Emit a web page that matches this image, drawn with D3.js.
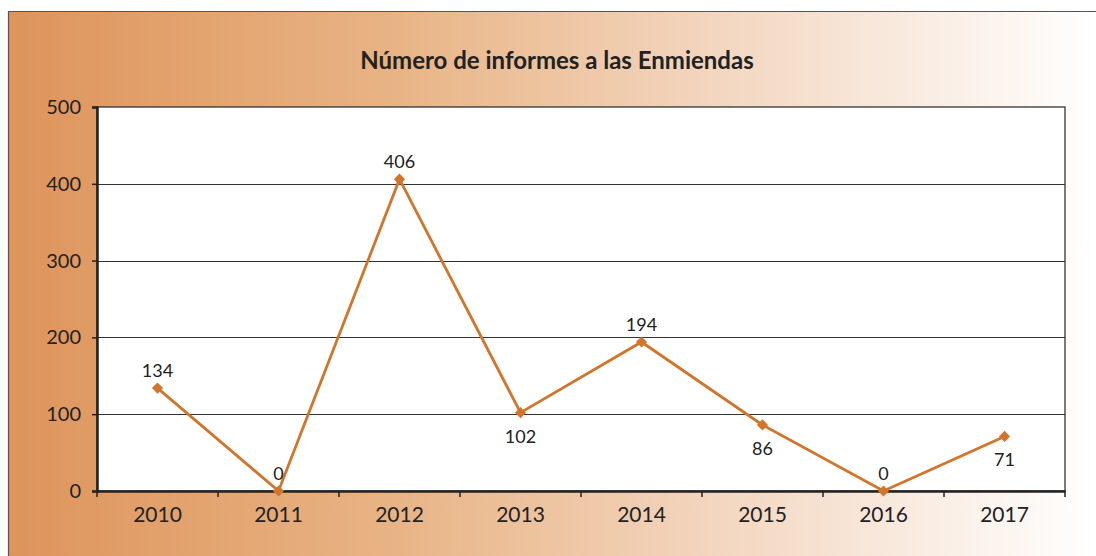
<!DOCTYPE html>
<html>
<head>
<meta charset="utf-8">
<script src="https://cdn.jsdelivr.net/npm/d3@7"></script>
<style>
  body { margin: 0; background: #fff; }
  text { font-family: Lato, "Open Sans", sans-serif; fill: #222; }
</style>
</head>
<body>
<script>
const years = ['2010', '2011', '2012', '2013', '2014', '2015', '2016', '2017'];
const informes = [134, 0, 406, 102, 194, 86, 0, 71];
const yTicks = [0, 100, 200, 300, 400, 500];
const labelSide = ['up', 'up', 'up', 'down', 'up', 'down', 'up', 'down'];

const width = 1096, height = 556;
const margin = { top: 107, right: 31, bottom: 65, left: 97 };

const svg = d3.select('body').append('svg')
  .attr('width', width)
  .attr('height', height);

const defs = svg.append('defs');
const bg = defs.append('linearGradient')
  .attr('id', 'bgGrad')
  .attr('x1', '0%').attr('x2', '100%')
  .attr('y1', '0%').attr('y2', '0%');
bg.append('stop').attr('offset', '0%').attr('stop-color', '#de945b');
bg.append('stop').attr('offset', '35%').attr('stop-color', '#e8b384');
bg.append('stop').attr('offset', '65%').attr('stop-color', '#f3d6bf');
bg.append('stop').attr('offset', '100%').attr('stop-color', '#ffffff');

// frame
svg.append('rect')
  .attr('x', 8).attr('y', 11)
  .attr('width', width - 8).attr('height', height - 11)
  .style('fill', 'url(#bgGrad)');
svg.append('path')
  .attr('d', `M8.5,${height} V11.5 H${width}`)
  .style('fill', 'none')
  .style('stroke', '#555')
  .style('stroke-width', 1.2);

svg.append('text')
  .attr('x', 557)
  .attr('y', 69)
  .attr('text-anchor', 'middle')
  .style('font-size', '24px')
  .style('font-weight', 'bold')
  .text('Número de informes a las Enmiendas');

const x = d3.scaleBand()
  .domain(years)
  .range([margin.left, width - margin.right]);

const y = d3.scaleLinear()
  .domain([0, 500])
  .range([height - margin.bottom, margin.top]);

// plot area
svg.append('rect')
  .attr('x', margin.left)
  .attr('y', margin.top)
  .attr('width', width - margin.left - margin.right)
  .attr('height', height - margin.top - margin.bottom)
  .style('fill', '#fff')
  .style('stroke', '#333')
  .style('stroke-width', 1.3);

// gridlines
svg.append('g')
  .selectAll('line')
  .data(yTicks.filter(d => d > 0 && d < 500))
  .join('line')
  .attr('x1', margin.left)
  .attr('x2', width - margin.right)
  .attr('y1', d => Math.round(y(d)) + 0.5)
  .attr('y2', d => Math.round(y(d)) + 0.5)
  .style('stroke', '#333')
  .style('stroke-width', 1.2);

const yAxis = svg.append('g')
  .attr('transform', `translate(${margin.left},0)`)
  .call(d3.axisLeft(y).tickValues(yTicks).tickSize(5).tickPadding(11));
yAxis.select('.domain').style('stroke', '#222').style('stroke-width', 2.5);
yAxis.selectAll('.tick line').style('stroke', '#222').style('stroke-width', 1.5);
yAxis.selectAll('text').style('font-size', '20px').attr('font-family', null);

const xAxis = svg.append('g')
  .attr('transform', `translate(0,${height - margin.bottom})`)
  .call(d3.axisBottom(x).tickSize(0).tickPadding(12));
xAxis.select('.domain').style('stroke', '#222').style('stroke-width', 2.5);
xAxis.selectAll('text').style('font-size', '21px').attr('font-family', null).attr('dy', '0.9em');

// category separators ticks
xAxis.selectAll('.sep')
  .data(years.concat(['end']))
  .join('line')
  .attr('class', 'sep')
  .attr('x1', (d, i) => margin.left + i * x.step())
  .attr('x2', (d, i) => margin.left + i * x.step())
  .attr('y1', 0)
  .attr('y2', 6)
  .style('stroke', '#222')
  .style('stroke-width', 1.5);

const pts = years.map((yr, i) => ({ yr, v: informes[i], side: labelSide[i] }));
const color = '#d2742a';

svg.append('path')
  .datum(pts)
  .attr('d', d3.line().x(d => x(d.yr) + x.bandwidth() / 2).y(d => y(d.v)))
  .style('fill', 'none')
  .style('stroke', color)
  .style('stroke-width', 2.8);

svg.append('g')
  .selectAll('path')
  .data(pts)
  .join('path')
  .attr('transform', d => `translate(${x(d.yr) + x.bandwidth() / 2},${y(d.v)})`)
  .attr('d', d3.symbol(d3.symbolDiamond2, 80))
  .style('fill', color);

svg.append('g')
  .selectAll('text')
  .data(pts)
  .join('text')
  .attr('x', d => x(d.yr) + x.bandwidth() / 2)
  .attr('y', d => y(d.v) + (d.side === 'up' ? -11 : 30))
  .attr('text-anchor', 'middle')
  .style('font-size', '18px')
  .text(d => d.v);
</script>
</body>
</html>
